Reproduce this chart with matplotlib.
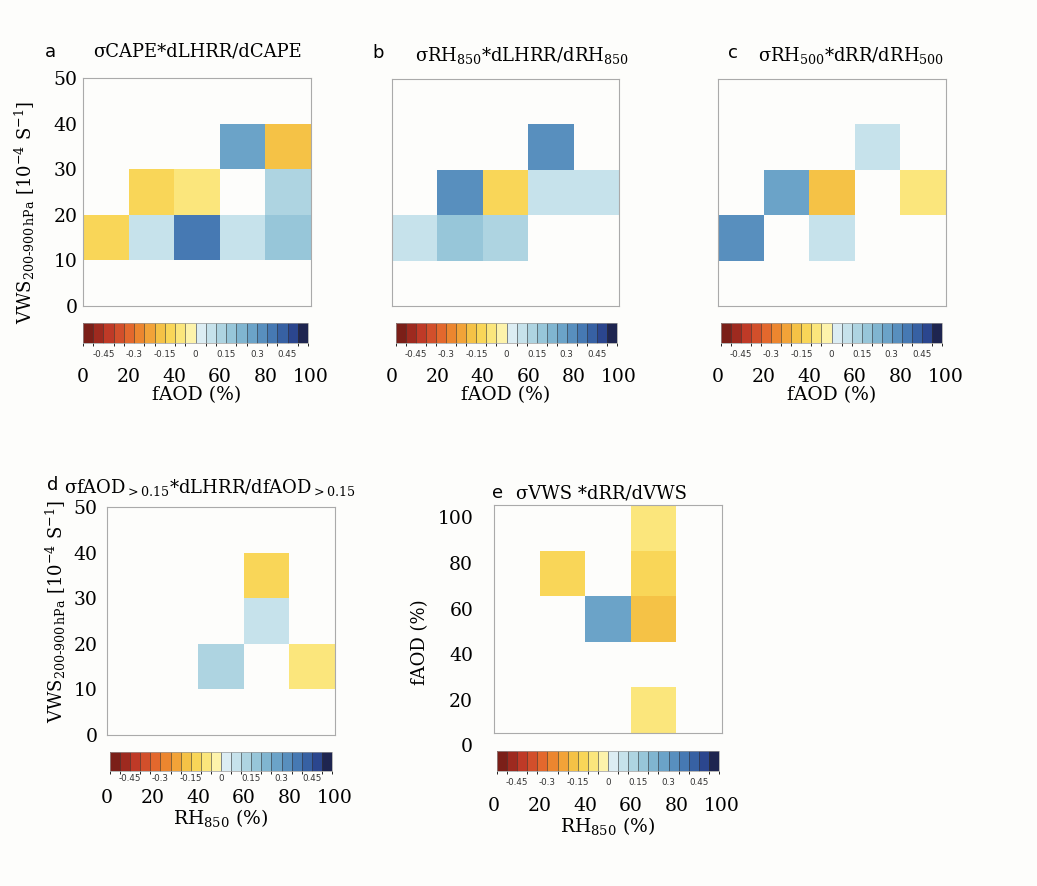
import numpy as np
import matplotlib
matplotlib.use("Agg")
import matplotlib.pyplot as plt
from matplotlib.colors import ListedColormap, BoundaryNorm
from matplotlib.transforms import ScaledTranslation

plt.rcParams['font.family'] = ['DejaVu Serif']
plt.rcParams['mathtext.default'] = 'regular'

nan = np.nan

# bin edges
faod_edges = [0, 20, 40, 60, 80, 100]
vws_edges = [0, 10, 20, 30, 40, 50]
rh_edges = [0, 20, 40, 60, 80, 100]

# rows = lowest y bin first, columns = lowest x bin first
cape_lhrr = [[nan, nan, nan, nan, nan],
             [-0.12, 0.07, 0.37, 0.07, 0.18],
             [nan, -0.12, -0.07, nan, 0.12],
             [nan, nan, nan, 0.27, -0.17],
             [nan, nan, nan, nan, nan]]
rh850_lhrr = [[nan, nan, nan, nan, nan],
              [0.07, 0.17, 0.12, nan, nan],
              [nan, 0.33, -0.12, 0.07, 0.07],
              [nan, nan, nan, 0.33, nan],
              [nan, nan, nan, nan, nan]]
rh500_rr = [[nan, nan, nan, nan, nan],
            [0.32, nan, 0.07, nan, nan],
            [nan, 0.27, -0.17, nan, -0.07],
            [nan, nan, nan, 0.07, nan],
            [nan, nan, nan, nan, nan]]
faod_lhrr = [[nan, nan, nan, nan, nan],
             [nan, nan, 0.12, nan, -0.07],
             [nan, nan, nan, 0.07, nan],
             [nan, nan, nan, -0.12, nan],
             [nan, nan, nan, nan, nan]]
vws_rr = [[nan, nan, nan, -0.07, nan],
          [nan, nan, nan, nan, nan],
          [nan, nan, 0.27, -0.17, nan],
          [nan, -0.12, nan, -0.12, nan],
          [nan, nan, nan, -0.07, nan]]

levels = np.round(np.arange(-0.55, 0.5501, 0.05), 2)
cbar_ticks = [-0.45, -0.3, -0.15, 0, 0.15, 0.3, 0.45]
cbar_ticklabels = ['-0.45', '-0.3', '-0.15', '0', '0.15', '0.3', '0.45']

colors = ['#7b1f18', '#9e2a1f', '#bf3a27', '#d24f2b', '#e3682d', '#ec862f',
          '#f2a338', '#f5c246', '#f9d658', '#fbe67c', '#fdf3ab',
          '#dcedf3', '#c6e2eb', '#aed4e1', '#97c6d9', '#80b5d0', '#6ba3c8',
          '#588fbe', '#4679b3', '#3761a3', '#2b468e', '#1e2550']
cmap = ListedColormap(colors)
norm = BoundaryNorm(levels, cmap.N)

W, H = 1037, 886
fig = plt.figure(figsize=(W / 100, H / 100), dpi=100, facecolor='#fdfdfb')


def box(x0, y0, x1, y1):
    return [x0 / W, 1 - y1 / H, (x1 - x0) / W, (y1 - y0) / H]


vws_label = r'VWS$_{200\text{-}900\,hPa}$ [10$^{-4}$ S$^{-1}$]'
rh_label = r'RH$_{850}$ (%)'
fs = 13.5


def panel(axbox, cbbox, xe, ye, data, xlabel, xpad, ylabel=None, ylc=None,
          yticks=True, cbpad=5):
    ax = fig.add_axes(box(*axbox))
    ax.set_facecolor('#fdfdfb')
    ax.pcolormesh(xe, ye, np.array(data), cmap=cmap, norm=norm)
    ax.set_xlim(xe[0], xe[-1])
    ax.set_ylim(ye[0], ye[-1])
    ax.set_xticks(xe)
    ax.set_yticks(ye)
    ax.tick_params(axis='x', length=0, pad=xpad, labelsize=fs)
    ax.tick_params(axis='y', length=0, pad=4, labelsize=fs, labelleft=yticks)
    ax.set_xlabel(xlabel, fontsize=fs, labelpad=0)
    if ylabel is not None:
        ax.set_ylabel(ylabel, fontsize=13)
        ax.yaxis.set_label_coords(*ylc)
    for s in ax.spines.values():
        s.set_color('#aaaaaa')
        s.set_linewidth(0.8)

    cax = fig.add_axes(box(*cbbox))
    cb = fig.colorbar(ax.collections[0], cax=cax, orientation='horizontal',
                      ticks=cbar_ticks, drawedges=True)
    cb.set_ticklabels(cbar_ticklabels)
    cb.ax.tick_params(length=0, pad=cbpad, labelsize=6.3, labelcolor='#333333')
    for lab in cb.ax.get_xticklabels():
        lab.set_family('DejaVu Sans')
    cb.dividers.set_color('#333333')
    cb.dividers.set_linewidth(0.4)
    cb.outline.set_edgecolor('#999999')
    cb.outline.set_linewidth(0.5)
    return ax


ax_a = panel((83, 78, 311, 306), (83, 323, 308, 343), faod_edges, vws_edges,
             cape_lhrr, 'fAOD (%)', 45, vws_label, (-0.2, 0.41))
ax_b = panel((392, 79, 619, 306), (396, 323, 617, 343), faod_edges, vws_edges,
             rh850_lhrr, 'fAOD (%)', 45, yticks=False)
ax_c = panel((718, 79, 946, 306), (721, 323, 942, 343), faod_edges, vws_edges,
             rh500_rr, 'fAOD (%)', 45, yticks=False)
ax_d = panel((107, 507, 335, 735), (110, 752, 332, 771), rh_edges, vws_edges,
             faod_lhrr, rh_label, 39, vws_label, (-0.17, 0.54), cbpad=2.5)
ax_d.tick_params(axis='y', pad=7)
ax_e = panel((494, 505, 722, 733), (497, 751, 719, 771), rh_edges, faod_edges,
             vws_rr, rh_label, 46, 'fAOD (%)', (-0.285, 0.4))
ax_e.tick_params(axis='y', pad=15)
# fAOD tick labels in panel e sit a little lower than the grid lines
shift = ScaledTranslation(0, -9 / 72, fig.dpi_scale_trans)
for lab in ax_e.get_yticklabels():
    lab.set_transform(lab.get_transform() + shift)

# panel letters and titles
letters = [('a', 50, 52), ('b', 378, 53), ('c', 733, 53), ('d', 53, 485), ('e', 498, 493)]
for t, x, y in letters:
    fig.text(x / W, 1 - y / H, t, family='DejaVu Sans', fontsize=13, ha='center', va='center')

titles = [(r'σCAPE*dLHRR/dCAPE', 197, 52),
          (r'σRH$_{850}$*dLHRR/dRH$_{850}$', 522, 55),
          (r'σRH$_{500}$*dRR/dRH$_{500}$', 851, 55),
          (r'σfAOD$_{>0.15}$*dLHRR/dfAOD$_{>0.15}$', 210, 487),
          (r'σVWS *dRR/dVWS', 602, 493)]
for t, x, y in titles:
    fig.text(x / W, 1 - y / H, t, fontsize=13, ha='center', va='center')

fig.savefig('out.png', dpi=100, facecolor=fig.get_facecolor())
